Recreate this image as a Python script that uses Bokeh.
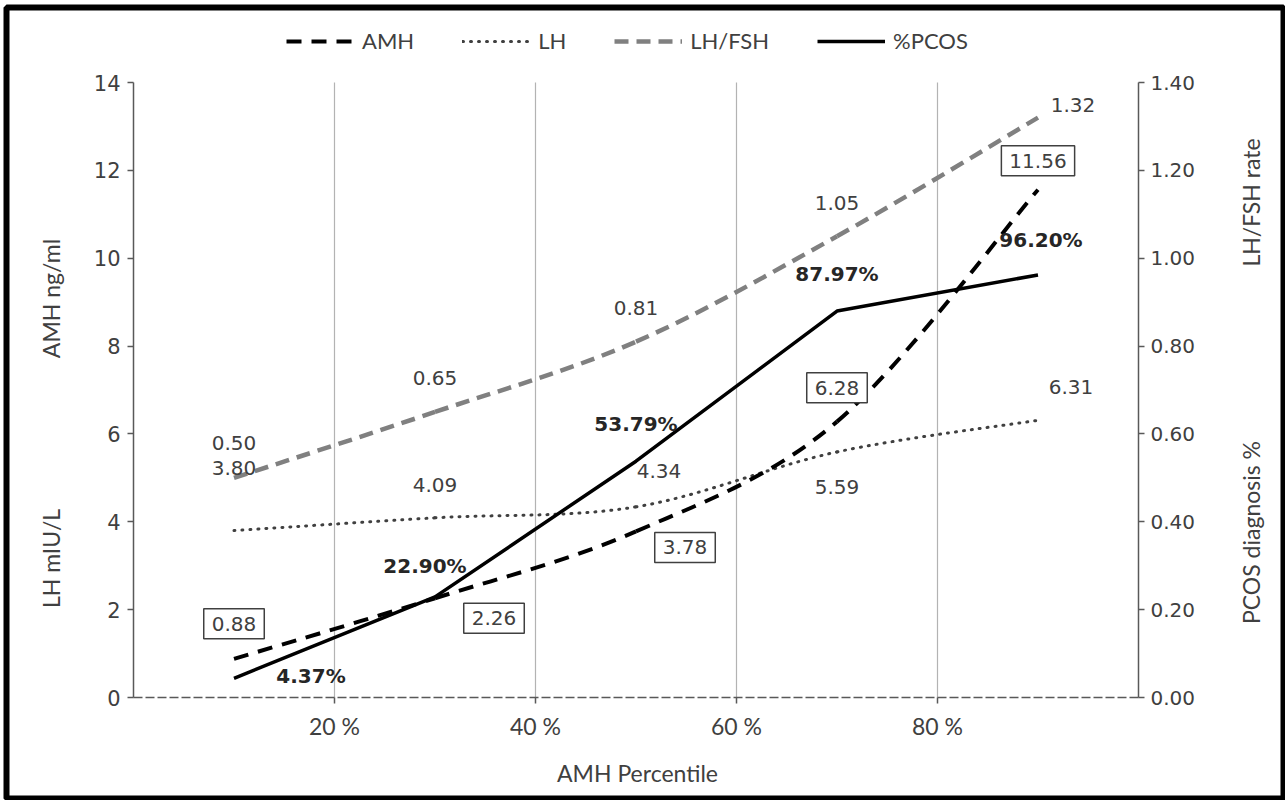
import math

from bokeh.embed import file_html
from bokeh.models import (ColumnDataSource, FixedTicker, Label, Legend,
                          LegendItem, LinearAxis, NumeralTickFormatter, Range1d)
from bokeh.plotting import figure
from bokeh.resources import INLINE

# ---- data -----------------------------------------------------------------
percentile = [10, 30, 50, 70, 90]
amh = [0.88, 2.26, 3.78, 6.28, 11.56]          # ng/ml, left axis
lh = [3.80, 4.09, 4.34, 5.59, 6.31]            # mIU/L, left axis
lh_fsh = [0.50, 0.65, 0.81, 1.05, 1.32]        # ratio, right axis
pcos_pct = [4.37, 22.90, 53.79, 87.97, 96.20]  # %, right axis as fraction

x_ticks = [20, 40, 60, 80]
x_tick_labels = ["20 %", "40 %", "60 %", "80 %"]
left_ticks = [0, 2, 4, 6, 8, 10, 12, 14]
right_ticks = [0.0, 0.2, 0.4, 0.6, 0.8, 1.0, 1.2, 1.4]
x_bounds = (0, 100)
left_bounds = (0, 14)
right_bounds = (0, 1.4)

# ---- layout (page pixels) ---------------------------------------------------
W, H = 1285, 800
BORDER = dict(left=6, top=7, right=2, bottom=2)  # outline centre lines
AX_LEFT_PX, AX_RIGHT_PX = 133, 1138               # x = 0 and x = 100
AX_BOTTOM_PX, AX_TOP_PX = 697, 82                 # y = 0 and y = 14

sx = (AX_RIGHT_PX - AX_LEFT_PX) / (x_bounds[1] - x_bounds[0])
sy = (AX_BOTTOM_PX - AX_TOP_PX) / (left_bounds[1] - left_bounds[0])
frame_l, frame_r = BORDER["left"], W - BORDER["right"]
frame_t, frame_b = BORDER["top"], H - BORDER["bottom"]
x_start = x_bounds[0] + (frame_l - AX_LEFT_PX) / sx
x_end = x_bounds[0] + (frame_r - AX_LEFT_PX) / sx
y_start = left_bounds[0] - (frame_b - AX_BOTTOM_PX) / sy
y_end = left_bounds[0] + (AX_BOTTOM_PX - frame_t) / sy
ratio_k = right_bounds[1] / left_bounds[1]


def px_x(px):
    return x_bounds[0] + (px - AX_LEFT_PX) / sx


def px_y(py):
    return left_bounds[0] + (AX_BOTTOM_PX - py) / sy


# label offsets in screen px (right, up) from each point
lh_fsh_off = [(0, 35), (0, 34), (0, 34), (0, 33), (35, 13)]
lh_off = [(0, 63), (0, 33), (23, 36), (0, -35), (33, 33)]
amh_off = [(0, 35), (59, -20), (49, -16), (0, 34), (0, 29)]
pcos_off = [(77, 2), (-10, 31), (0, 37), (0, 37), (3, 35)]

TEXT = "#404040"
AXIS = "#595959"
TITLE_FONT = "Lato"
NUM_FONT = "DejaVu Sans"

p = figure(
    width=W, height=H,
    x_range=Range1d(x_start, x_end), y_range=Range1d(y_start, y_end),
    output_backend="svg", toolbar_location=None,
    min_border_left=BORDER["left"], min_border_right=BORDER["right"],
    min_border_top=BORDER["top"], min_border_bottom=BORDER["bottom"],
)
p.outline_line_color = "black"
p.outline_line_width = 6
p.background_fill_color = "white"
p.border_fill_color = "white"
p.extra_y_ranges = {"ratio": Range1d(y_start * ratio_k, y_end * ratio_k)}
p.xgrid.visible = False
p.ygrid.visible = False

# x axis, drawn along y = 0
xa = p.xaxis[0]
xa.fixed_location = 0
xa.bounds = x_bounds
xa.ticker = FixedTicker(ticks=x_ticks)
xa.major_label_overrides = {t: s for t, s in zip(x_ticks, x_tick_labels)}
xa.axis_line_color = AXIS
xa.axis_line_width = 1.5
xa.axis_line_dash = "9 3"
xa.major_tick_line_color = AXIS
xa.major_tick_line_width = 1.5
xa.major_tick_in = 0
xa.major_tick_out = 6
xa.minor_tick_line_color = None
xa.major_label_text_font = TITLE_FONT
xa.major_label_text_font_size = "23px"
xa.major_label_text_color = TEXT
xa.major_label_standoff = 8

# left axis, drawn along x = 0
ya = p.yaxis[0]
ya.fixed_location = 0
ya.bounds = left_bounds
ya.ticker = FixedTicker(ticks=left_ticks)
ya.axis_line_color = AXIS
ya.axis_line_width = 1.5
ya.major_tick_line_color = AXIS
ya.major_tick_line_width = 1.5
ya.major_tick_in = 0
ya.major_tick_out = 6
ya.minor_tick_line_color = None
ya.major_label_text_font = NUM_FONT
ya.major_label_text_font_size = "21px"
ya.major_label_text_color = TEXT
ya.major_label_standoff = 7

# right axis, drawn along x = 100
ra = LinearAxis(y_range_name="ratio", ticker=FixedTicker(ticks=right_ticks),
                formatter=NumeralTickFormatter(format="0.00"),
                fixed_location=x_bounds[1], bounds=right_bounds)
ra.axis_line_color = AXIS
ra.axis_line_width = 1.5
ra.major_tick_line_color = AXIS
ra.major_tick_line_width = 1.5
ra.major_tick_in = 0
ra.major_tick_out = 6
ra.minor_tick_line_color = None
ra.major_label_text_font = NUM_FONT
ra.major_label_text_font_size = "20px"
ra.major_label_text_color = TEXT
ra.major_label_standoff = 6
p.add_layout(ra, "right")

# vertical grid lines at the x ticks, spanning the left axis bounds
p.segment(x0=x_ticks, x1=x_ticks,
          y0=[left_bounds[0]] * len(x_ticks), y1=[left_bounds[1]] * len(x_ticks),
          line_color="#b3b3b3", line_width=1.2)


def smooth_source(xs, ys):
    """Cubic Bezier segments through the points (Catmull-Rom style tangents)."""
    n = len(xs)
    cols = {k: [] for k in ("x0", "y0", "x1", "y1", "cx0", "cy0", "cx1", "cy1")}
    for i in range(n - 1):
        i0, i3 = max(i - 1, 0), min(i + 2, n - 1)
        cols["x0"].append(xs[i]); cols["y0"].append(ys[i])
        cols["x1"].append(xs[i + 1]); cols["y1"].append(ys[i + 1])
        cols["cx0"].append(xs[i] + (xs[i + 1] - xs[i0]) / 6)
        cols["cy0"].append(ys[i] + (ys[i + 1] - ys[i0]) / 6)
        cols["cx1"].append(xs[i + 1] - (xs[i3] - xs[i]) / 6)
        cols["cy1"].append(ys[i + 1] - (ys[i3] - ys[i]) / 6)
    return ColumnDataSource(cols)


BEZ = dict(x0="x0", y0="y0", x1="x1", y1="y1", cx0="cx0", cy0="cy0", cx1="cx1", cy1="cy1")

styles = {
    "amh": dict(line_color="black", line_width=4, line_dash="15 10"),
    "lh": dict(line_color="#404040", line_width=3, line_dash="1 7", line_cap="round"),
    "ratio": dict(line_color="#808080", line_width=4.5, line_dash="14 8"),
    "pcos": dict(line_color="black", line_width=3.5),
}

p.bezier(source=smooth_source(percentile, lh_fsh), y_range_name="ratio", **BEZ, **styles["ratio"])
p.bezier(source=smooth_source(percentile, lh), **BEZ, **styles["lh"])
p.bezier(source=smooth_source(percentile, amh), **BEZ, **styles["amh"])
pcos_frac = [v / 100 for v in pcos_pct]
r_pcos = p.line(percentile, pcos_frac, y_range_name="ratio", **styles["pcos"])

# legend swatches (single undrawn point each, only shown in the legend)
nan = [float("nan")]
r_amh = p.line(nan, nan, **styles["amh"])
r_lh = p.line(nan, nan, **styles["lh"])
r_ratio = p.line(nan, nan, **styles["ratio"])
legend = Legend(
    items=[LegendItem(label="AMH", renderers=[r_amh]),
           LegendItem(label="LH", renderers=[r_lh]),
           LegendItem(label="LH/FSH", renderers=[r_ratio]),
           LegendItem(label="%PCOS", renderers=[r_pcos])],
    orientation="horizontal", location=(286 - frame_l, frame_b - 54),
    glyph_width=68, glyph_height=22, label_height=22, label_standoff=8,
    spacing=48, padding=0, margin=0,
    label_text_font=TITLE_FONT, label_text_font_size="22px", label_text_color=TEXT,
    background_fill_alpha=0, border_line_alpha=0,
)
p.add_layout(legend)

# value labels
for x, v, (dx, dy) in zip(percentile, lh_fsh, lh_fsh_off):
    p.add_layout(Label(x=x, y=v, y_range_name="ratio", x_offset=dx, y_offset=dy,
                       text=f"{v:.2f}", text_font=NUM_FONT, text_font_size="20px",
                       text_color=TEXT, text_align="center", text_baseline="middle"))
for x, v, (dx, dy) in zip(percentile, lh, lh_off):
    p.add_layout(Label(x=x, y=v, x_offset=dx, y_offset=dy,
                       text=f"{v:.2f}", text_font=NUM_FONT, text_font_size="20px",
                       text_color=TEXT, text_align="center", text_baseline="middle"))
for x, v, (dx, dy) in zip(percentile, amh, amh_off):
    p.add_layout(Label(x=x, y=v, x_offset=dx, y_offset=dy,
                       text=f"{v:.2f}", text_font=NUM_FONT, text_font_size="20px",
                       text_color=TEXT, text_align="center", text_baseline="middle",
                       border_line_color="#404040", border_line_width=1.5,
                       background_fill_color="white", padding=8))
for x, v, (dx, dy) in zip(percentile, pcos_pct, pcos_off):
    p.add_layout(Label(x=x, y=v / 100, y_range_name="ratio", x_offset=dx, y_offset=dy,
                       text=f"{v:.2f}%", text_font=NUM_FONT, text_font_size="20px",
                       text_font_style="bold", text_color="#262626",
                       text_align="center", text_baseline="middle"))

# axis titles
TITLE = dict(text_font=TITLE_FONT, text_font_size="23px", text_color=TEXT,
             text_align="center", text_baseline="middle")
up = math.pi / 2
p.add_layout(Label(x=px_x(50), y=px_y(298), angle=up, text="AMH ng/ml", **TITLE))
p.add_layout(Label(x=px_x(50), y=px_y(558), angle=up, text="LH mIU/L", **TITLE))
p.add_layout(Label(x=px_x(1250), y=px_y(202), angle=up, text="LH/FSH rate", **TITLE))
p.add_layout(Label(x=px_x(1250), y=px_y(532), angle=up, text="PCOS diagnosis %", **TITLE))
p.add_layout(Label(x=px_x(637), y=px_y(772), text="AMH Percentile", **TITLE))

open("out.html", "w").write(file_html(p, INLINE))
